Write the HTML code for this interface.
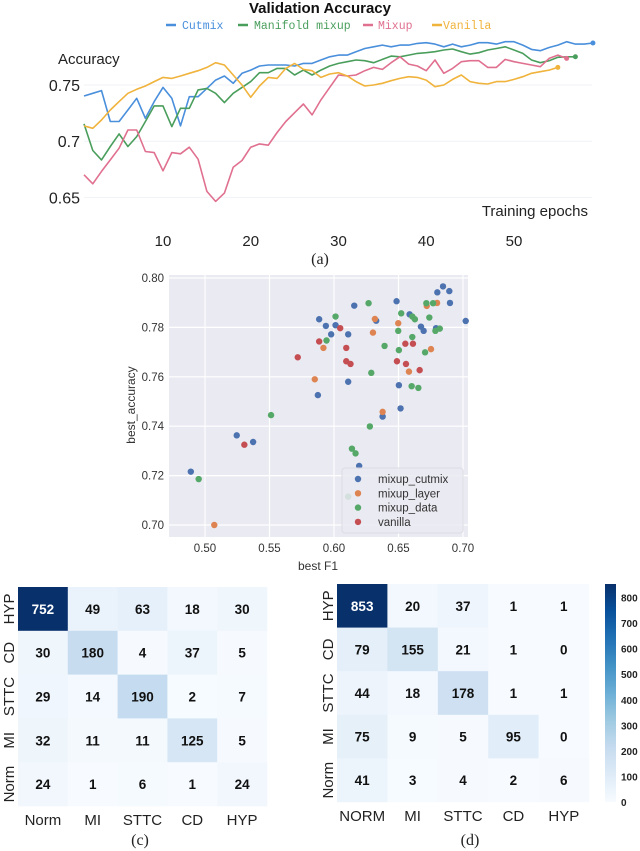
<!DOCTYPE html>
<html><head><meta charset="utf-8"><style>
body{margin:0;background:#fff;width:640px;height:851px;overflow:hidden;font-family:"Liberation Sans",sans-serif}
svg{position:absolute;left:0;top:0}
</style></head><body>
<svg id="fig" width="640" height="851" xmlns="http://www.w3.org/2000/svg">
<g id="lineChart">
<text x="320" y="13" text-anchor="middle" font-size="15" font-weight="bold" fill="#111">Validation Accuracy</text>
<g font-family="Liberation Mono, monospace" font-size="11.5">
<line x1="166" y1="25" x2="176" y2="25" stroke="#4a8fdc" stroke-width="2.5"/><text x="182" y="29" fill="#4a8fdc">Cutmix</text>
<line x1="238" y1="25" x2="248" y2="25" stroke="#4a9e5c" stroke-width="2.5"/><text x="254" y="29" fill="#4a9e5c">Manifold mixup</text>
<line x1="363" y1="25" x2="373" y2="25" stroke="#e0708f" stroke-width="2.5"/><text x="378" y="29" fill="#e0708f">Mixup</text>
<line x1="432" y1="25" x2="442" y2="25" stroke="#f0b33c" stroke-width="2.5"/><text x="443" y="29" fill="#f0b33c">Vanilla</text>
</g>
<text x="58" y="64" font-size="15" fill="#222">Accuracy</text>
<text x="588" y="216" text-anchor="end" font-size="15" fill="#222">Training epochs</text>
<g id="lineAxes"></g><g id="lineSeries"></g>
<text x="320" y="264" text-anchor="middle" font-family="Liberation Serif,serif" font-size="16" fill="#222">(a)</text>
</g>
<g id="scatter">
<rect x="169" y="275" width="299" height="262" fill="#eaeaf2"/>
<g id="scAxes"></g><g id="scPoints"></g>
<text x="318" y="570" text-anchor="middle" font-size="12" fill="#333">best F1</text>
<text transform="translate(135,405) rotate(-90)" text-anchor="middle" font-size="12" fill="#333">best_accuracy</text>
<g id="scLegend"></g>
</g>
<g id="hm1"></g>
<g id="hm2"></g>
<g id="cbar"></g>
<text x="140" y="845" text-anchor="middle" font-family="Liberation Serif,serif" font-size="16" fill="#222">(c)</text>
<text x="470" y="845" text-anchor="middle" font-family="Liberation Serif,serif" font-size="16" fill="#222">(d)</text>
</svg>
<script>
const NS="http://www.w3.org/2000/svg";
function mk(p,t,a){const e=document.createElementNS(NS,t);for(const k in a)e.setAttribute(k,a[k]);p.appendChild(e);return e;}
// ---- line chart data ----
const epochTicks=[10,20,30,40,50];
const accTicks=[0.65,0.7,0.75];
const accTickLabels=["0.65","0.7","0.75"];
const cutmix=[0.7402,0.7426,0.745,0.7175,0.7175,0.7278,0.7382,0.7204,0.7352,0.7479,0.7382,0.7136,0.7396,0.7396,0.747,0.7544,0.758,0.7515,0.7604,0.7633,0.7669,0.7678,0.7678,0.7678,0.7669,0.7692,0.7692,0.7722,0.7751,0.7766,0.7766,0.7796,0.7825,0.784,0.7855,0.784,0.7855,0.7855,0.787,0.7876,0.7864,0.784,0.7864,0.784,0.7855,0.7876,0.7876,0.7864,0.7885,0.7885,0.7855,0.7817,0.7805,0.7834,0.7855,0.7885,0.7864,0.7864,0.7874];
const manifold=[0.7154,0.6917,0.6834,0.6953,0.7065,0.6953,0.7041,0.7175,0.7314,0.7314,0.713,0.7293,0.7293,0.7456,0.747,0.7426,0.7343,0.7426,0.7479,0.753,0.7609,0.7609,0.7648,0.7648,0.7589,0.7633,0.7589,0.7633,0.7669,0.7692,0.7707,0.7722,0.7716,0.7698,0.7728,0.7757,0.7751,0.7766,0.7781,0.7787,0.7796,0.7811,0.782,0.7796,0.7775,0.7787,0.7811,0.7825,0.784,0.7811,0.7781,0.7722,0.7698,0.7716,0.7746,0.7751,0.7751];
const mixup=[0.6701,0.6621,0.6731,0.6834,0.6938,0.71,0.71,0.6908,0.6899,0.6737,0.6899,0.6888,0.6947,0.684,0.6553,0.6464,0.6538,0.6769,0.6828,0.6947,0.6976,0.6964,0.7077,0.7175,0.7254,0.7331,0.7234,0.7367,0.7479,0.7589,0.758,0.7589,0.7627,0.7657,0.7639,0.7698,0.7751,0.7686,0.7669,0.7627,0.7722,0.7604,0.7648,0.7707,0.7716,0.7716,0.7657,0.7657,0.7728,0.7707,0.7692,0.7678,0.7663,0.7737,0.7766,0.7737];
const vanilla=[0.7136,0.7115,0.7189,0.7278,0.7352,0.7426,0.7462,0.7491,0.753,0.7568,0.7559,0.758,0.7604,0.7627,0.7657,0.7698,0.7678,0.7589,0.75,0.7391,0.7491,0.7568,0.7559,0.7648,0.7692,0.7639,0.7627,0.7568,0.7598,0.7609,0.758,0.753,0.7491,0.75,0.7515,0.7538,0.7559,0.7574,0.7568,0.7544,0.7485,0.75,0.755,0.7589,0.753,0.7515,0.7509,0.753,0.753,0.755,0.7574,0.7604,0.7618,0.7633,0.7657];
const seriesNames=["cutmix","manifold-mixup","mixup","vanilla"];
const seriesColors=["#4a8fdc","#4a9e5c","#e0708f","#f0b33c"];
const ex=e=>84+(e-1)*8.775, ay=v=>85+(0.75-v)/0.05*56.2;
const la=document.getElementById('lineAxes');
accTicks.forEach((t,i)=>{const l=mk(la,'line',{x1:84,x2:592,y1:ay(t),y2:ay(t),stroke:'#f0f2f6','stroke-width':1});

const tx=mk(la,'text',{x:80,y:ay(t)+6,'text-anchor':'end','font-size':16,fill:'#222'});tx.textContent=accTickLabels[i];
});
epochTicks.forEach(t=>{const tx=mk(la,'text',{x:ex(t),y:246,'text-anchor':'middle','font-size':15,fill:'#222'});tx.textContent=t;
});
const ls=document.getElementById('lineSeries');
[cutmix,manifold,mixup,vanilla].forEach((s,k)=>{const d=s.map((v,i)=>(i?'L':'M')+ex(i+1).toFixed(1)+','+ay(v).toFixed(1)).join('');
const p=mk(ls,'path',{d:d,fill:'none',stroke:seriesColors[k],'stroke-width':1.6,'stroke-linejoin':'round'});

const c=mk(ls,'circle',{cx:ex(s.length),cy:ay(s[s.length-1]),r:2.5,fill:seriesColors[k]});
});
// ---- scatter data ----
const f1Ticks=[0.5,0.55,0.6,0.65,0.7];
const f1TickLabels=["0.50","0.55","0.60","0.65","0.70"];
const accScTicks=[0.7,0.72,0.74,0.76,0.78,0.8];
const accScTickLabels=["0.70","0.72","0.74","0.76","0.78","0.80"];
const groups=["mixup_cutmix","mixup_layer","mixup_data","vanilla"];
const groupColors=["#4c72b0","#dd8452","#55a868","#c44e52"];
const cutmixF1=[0.489,0.5246,0.5373,0.5885,0.5875,0.5937,0.6012,0.5978,0.611,0.611,0.6157,0.6195,0.6377,0.6327,0.6485,0.6503,0.6516,0.6586,0.6674,0.6695,0.6791,0.6801,0.6845,0.6894,0.6899,0.7021];
const cutmixAcc=[0.7216,0.7363,0.7336,0.7833,0.7526,0.7806,0.7809,0.7772,0.7772,0.758,0.7888,0.7239,0.7439,0.7827,0.7906,0.7566,0.7472,0.7853,0.7803,0.7786,0.7797,0.7942,0.7966,0.7947,0.7899,0.7826];
const layerF1=[0.5072,0.5851,0.5918,0.6317,0.6302,0.6377,0.6498,0.6581,0.6719,0.6799,0.6752];
const layerAcc=[0.70,0.759,0.7717,0.7834,0.7779,0.7458,0.7817,0.7621,0.7887,0.7899,0.7712];
const dataF1=[0.4951,0.5512,0.5942,0.6012,0.6268,0.6289,0.6278,0.6139,0.6167,0.611,0.6392,0.6498,0.6503,0.6521,0.6607,0.6627,0.6607,0.6602,0.6654,0.6706,0.6716,0.6768,0.6739,0.6786,0.682];
const dataAcc=[0.7186,0.7445,0.7747,0.7844,0.7898,0.7616,0.7399,0.7309,0.729,0.7115,0.7725,0.7786,0.7708,0.7857,0.7844,0.7833,0.7761,0.7562,0.7555,0.7699,0.7898,0.7898,0.784,0.7786,0.7795];
const vanF1=[0.5719,0.5885,0.6048,0.6095,0.6095,0.6128,0.5305,0.6488,0.6553,0.6558,0.6612,0.6664];
const vanAcc=[0.7679,0.7743,0.7797,0.7717,0.7663,0.7652,0.7325,0.7663,0.7734,0.7652,0.7734,0.7627];
const fx=v=>205+(v-0.5)/0.2*258, sy=v=>278+(0.8-v)/0.1*247;
const sa=document.getElementById('scAxes');
f1Ticks.forEach((t,i)=>{const l=mk(sa,'line',{x1:fx(t),x2:fx(t),y1:275,y2:537,stroke:'#fff','stroke-width':1.2});

const tx=mk(sa,'text',{x:fx(t),y:552,'text-anchor':'middle','font-size':11.5,fill:'#333'});tx.textContent=f1TickLabels[i];
});
accScTicks.forEach((t,i)=>{const l=mk(sa,'line',{x1:169,x2:468,y1:sy(t),y2:sy(t),stroke:'#fff','stroke-width':1.2});

const tx=mk(sa,'text',{x:164,y:sy(t)+4,'text-anchor':'end','font-size':11.5,fill:'#333'});tx.textContent=accScTickLabels[i];
});
const sp=document.getElementById('scPoints');
[[cutmixF1,cutmixAcc],[layerF1,layerAcc],[dataF1,dataAcc],[vanF1,vanAcc]].forEach((g,k)=>{g[0].forEach((v,i)=>{
const c=mk(sp,'circle',{cx:fx(v),cy:sy(g[1][i]),r:3.2,fill:groupColors[k]});
});});
const sl=document.getElementById('scLegend');
const lb=mk(sl,'rect',{x:342,y:468,width:121,height:65,rx:3,fill:'#eaeaf2',stroke:'#dcdce4','fill-opacity':0.85});

groups.forEach((g,k)=>{const c=mk(sl,'circle',{cx:358,cy:479+k*14.3,r:3.2,fill:groupColors[k]});

const t=mk(sl,'text',{x:378,y:483+k*14.3,'font-size':11.5,fill:'#333'});t.textContent=g;
});
// ---- heatmaps ----
const rowLabels=["HYP","CD","STTC","MI","Norm"];
const colLabelsC=["Norm","MI","STTC","CD","HYP"];
const colLabelsD=["NORM","MI","STTC","CD","HYP"];
const matrixC=[[752,49,63,18,30],[30,180,4,37,5],[29,14,190,2,7],[32,11,11,125,5],[24,1,6,1,24]];
const matrixD=[[853,20,37,1,1],[79,155,21,1,0],[44,18,178,1,1],[75,9,5,95,0],[41,3,4,2,6]];
const cbTicks=[0,100,200,300,400,500,600,700,800];
const blues=[[247,251,255],[222,235,247],[198,219,239],[158,202,225],[107,174,214],[66,146,198],[33,113,181],[8,81,156],[8,48,107]];
function cmap(t){t=Math.max(0,Math.min(1,t))*8;const i=Math.min(7,Math.floor(t)),f=t-i;const a=blues[i],b=blues[i+1];
return 'rgb('+a.map((v,j)=>Math.round(v+(b[j]-v)*f)).join(',')+')';}
function heat(id,M,cols,x0,y0,w,h,vmax){const g=document.getElementById(id);const cw=w/5,ch=h/5;
M.forEach((row,r)=>row.forEach((v,c)=>{const t=v/vmax;
const rc=mk(g,'rect',{x:x0+c*cw,y:y0+r*ch,width:cw+0.3,height:ch+0.3,fill:cmap(t)});

const tx=mk(g,'text',{x:x0+c*cw+cw/2,y:y0+r*ch+ch/2+5,'text-anchor':'middle','font-size':13.5,'font-weight':'bold',fill:t>0.6?'#fff':'#111'});tx.textContent=v;
}));
rowLabels.forEach((l,r)=>{const tx=mk(g,'text',{transform:'translate('+(x0-4)+','+(y0+r*ch+ch/2)+') rotate(-90)','text-anchor':'middle','font-size':15,fill:'#222'});tx.textContent=l;
});
cols.forEach((l,c)=>{const tx=mk(g,'text',{x:x0+c*cw+cw/2,y:y0+h+19,'text-anchor':'middle','font-size':15,fill:'#222'});tx.textContent=l;
});}
heat('hm1',matrixC,colLabelsC,18,587,249,219,752);
heat('hm2',matrixD,colLabelsD,337,584,252,218,853);
const cb=document.getElementById('cbar');
const defs=mk(cb,'defs',{});const lg=mk(defs,'linearGradient',{id:'bg',x1:0,y1:1,x2:0,y2:0});
blues.forEach((b,i)=>mk(lg,'stop',{offset:(i/8*853/853),'stop-color':'rgb('+b.join(',')+')'}));
const cby=v=>802-v/853*218;
const cr=mk(cb,'rect',{x:605,y:584,width:11,height:218,fill:'url(#bg)'});

cbTicks.forEach(t=>{const tx=mk(cb,'text',{x:621,y:cby(t)+4,'font-size':10,'font-weight':'bold',fill:'#222'});tx.textContent=t;
});
</script>
</body></html>
